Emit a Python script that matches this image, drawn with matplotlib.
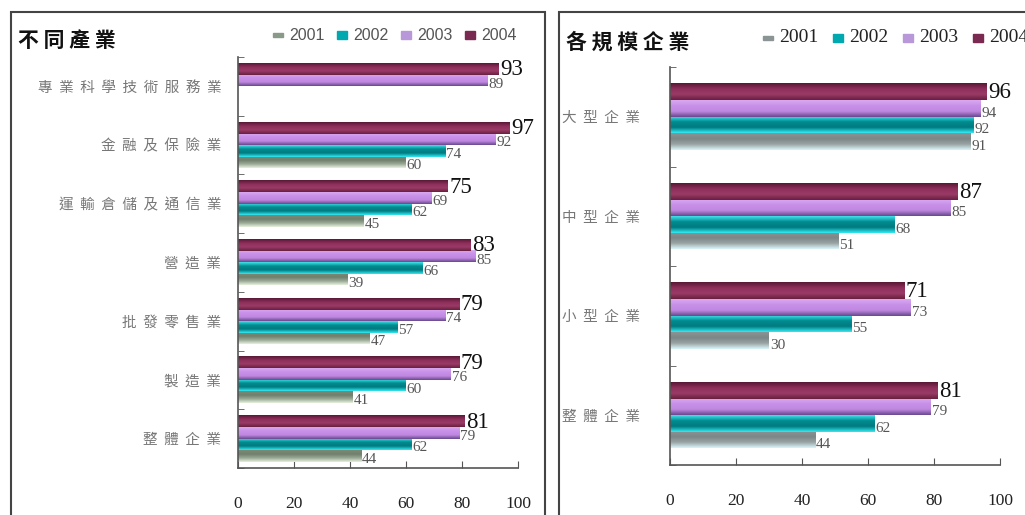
import numpy as np
import matplotlib
matplotlib.use("Agg")
import matplotlib.pyplot as plt
from matplotlib.colors import LinearSegmentedColormap
from matplotlib.patches import Rectangle

plt.rcParams['font.family'] = ['Liberation Serif', 'Noto Sans CJK TC', 'DejaVu Sans']

years = ['2001', '2002', '2003', '2004']

# 不同產業
ind_cats = ['專業科學技術服務業', '金融及保險業', '運輸倉儲及通信業', '營造業',
            '批發零售業', '製造業', '整體企業']
ind_2001 = [None, 60, 45, 39, 47, 41, 44]
ind_2002 = [None, 74, 62, 66, 57, 60, 62]
ind_2003 = [89, 92, 69, 85, 74, 76, 79]
ind_2004 = [93, 97, 75, 83, 79, 79, 81]

# 各規模企業
size_cats = ['大型企業', '中型企業', '小型企業', '整體企業']
size_2001 = [91, 51, 30, 44]
size_2002 = [92, 68, 55, 62]
size_2003 = [94, 85, 73, 79]
size_2004 = [96, 87, 71, 81]

xticks = [0, 20, 40, 60, 80, 100]

# vertical shading of each series, top -> bottom
shade_left = {
    '2001': ['#7a8a78', '#6f806c', '#9aa896', '#e4f0dc'],
    '2002': ['#40e0e8', '#008c90', '#007a80', '#30e8f0'],
    '2003': ['#d8a8f0', '#c890e8', '#c088e0', '#6a4a90'],
    '2004': ['#5a1836', '#8e2e5a', '#9a3a66', '#6a2040'],
}
shade_right = dict(shade_left)
shade_right['2001'] = ['#8a9494', '#7c8686', '#9aa4a4', '#d8f4f8']
legend_col = {'2001': '#8a9a88', '2002': '#00a8b0', '2003': '#b898d8', '2004': '#7a2a50'}
legend_col_r = dict(legend_col)
legend_col_r['2001'] = '#8a9494'

W, H = 1025, 515
fig = plt.figure(figsize=(W / 100, H / 100), dpi=100)
fig.patch.set_facecolor('white')


def px_axes(x0, y0, x1, y1):
    return fig.add_axes([x0 / W, 1 - y1 / H, (x1 - x0) / W, (y1 - y0) / H])


def shaded_bar(ax, y, v, h, cols):
    cmap = LinearSegmentedColormap.from_list('s', cols)
    grad = np.linspace(0, 1, 32).reshape(-1, 1)
    ax.imshow(grad, cmap=cmap, aspect='auto', interpolation='bilinear',
              extent=(0, v, y + h / 2, y - h / 2), zorder=2)


def draw_panel(ax, cats, series, h, shades, label_ha, label_pad):
    n = len(cats)
    ax.set_xlim(0, 100)
    ax.set_ylim(n - 0.5, -0.5)
    offs = [1.5 * h, 0.5 * h, -0.5 * h, -1.5 * h]
    for k, yr in enumerate(years):
        for i, v in enumerate(series[k]):
            if v is None:
                continue
            y = i + offs[k]
            shaded_bar(ax, y, v, h, shades[yr])
            if yr == '2004':
                ax.text(v + 0.5, y + 0.05 * h, str(v), fontsize=16.5, color='#111111',
                        ha='left', va='center', zorder=4)
            else:
                ax.text(v + 0.3, y + 0.3 * h, str(v), fontsize=11, color='#555555',
                        ha='left', va='center', zorder=4)
    ax.set_xticks(xticks)
    ax.set_xticklabels([str(t) for t in xticks])
    ax.tick_params(axis='x', direction='in', length=5, pad=20, labelsize=12.5,
                   color='#555555', labelcolor='#222222')
    ax.set_yticks(range(n))
    ax.set_yticklabels(['  '.join(c) for c in cats], fontsize=10.5, color='#777777',
                       family=['Noto Sans CJK TC'])
    ax.set_yticks(np.arange(-0.5, n, 1.0), minor=True)
    ax.tick_params(axis='y', which='major', length=0, pad=label_pad)
    ax.tick_params(axis='y', which='minor', direction='in', length=4, color='#555555')
    for t in ax.get_yticklabels():
        t.set_horizontalalignment(label_ha)
    for s in ['top', 'right']:
        ax.spines[s].set_visible(False)
    for s in ['left', 'bottom']:
        ax.spines[s].set_color('#555555')
        ax.spines[s].set_linewidth(1.2)
    ax.set_facecolor('none')


def draw_legend(x0, y, step, cols, size, family, tcol):
    for k, yr in enumerate(years):
        xs = x0 + k * step
        if yr == '2001':
            fig.patches.append(Rectangle((xs / W, 1 - (y + 2) / H), 10 / W, 4 / H,
                                         transform=fig.transFigure, color=cols[yr]))
        else:
            fig.patches.append(Rectangle((xs / W, 1 - (y + 4) / H), 10 / W, 8 / H,
                                         transform=fig.transFigure, color=cols[yr]))
        fig.text((xs + 16) / W, 1 - y / H, yr, fontsize=size, color=tcol,
                 family=family, ha='left', va='center')


# panel frames
fig.patches.append(Rectangle((11 / W, -0.01), (545 - 11) / W, 1 - 12 / H + 0.01,
                             transform=fig.transFigure, fill=False,
                             edgecolor='#444444', linewidth=1.5))
fig.patches.append(Rectangle((559 / W, -0.01), (1040 - 559) / W, 1 - 12 / H + 0.01,
                             transform=fig.transFigure, fill=False,
                             edgecolor='#444444', linewidth=1.5))

ax1 = px_axes(238, 57, 518, 468)
draw_panel(ax1, ind_cats, [ind_2001, ind_2002, ind_2003, ind_2004], 0.195,
           shade_left, 'right', 12)

ax2 = px_axes(670, 67, 1000, 465)
draw_panel(ax2, size_cats, [size_2001, size_2002, size_2003, size_2004], 0.166,
           shade_right, 'left', 78)

fig.text(18 / W, 1 - 40 / H, '不 同 產 業', fontsize=15, fontweight='bold',
         family=['Noto Sans CJK TC'], ha='left', va='center', color='#111111')
fig.text(566 / W, 1 - 42 / H, '各 規 模 企 業', fontsize=15, fontweight='bold',
         family=['Noto Sans CJK TC'], ha='left', va='center', color='#111111')

draw_legend(273, 35, 64, legend_col, 11.5, ['Liberation Sans'], '#555555')
draw_legend(763, 38, 70, legend_col_r, 14, ['Liberation Serif'], '#222222')

fig.savefig('out.png', dpi=100, facecolor='white')
